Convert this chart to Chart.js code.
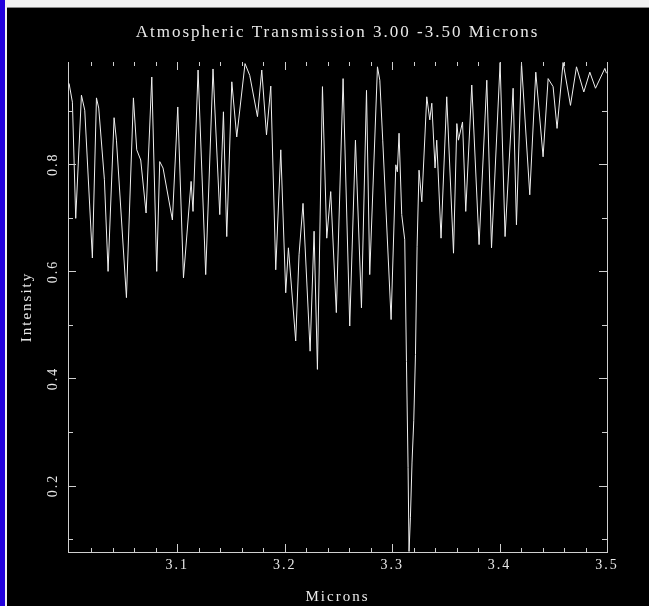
<!DOCTYPE html>
<html>
<head>
<meta charset="utf-8">
<script src="https://cdn.jsdelivr.net/npm/chart.js@4.4.1/dist/chart.umd.min.js"></script>
<style>
  html, body { margin: 0; padding: 0; background: #000; }
  #wrap { position: relative; width: 649px; height: 606px; overflow: hidden; }
  #chart { position: absolute; left: 0; top: 0; }
  .edge { position: absolute; }
</style>
</head>
<body>
<div id="wrap">
  <canvas id="chart" width="649" height="606"></canvas>
  <div class="edge" style="left:5px;top:0;width:644px;height:7px;background:#f2f2f2"></div>
  <div class="edge" style="left:7px;top:7px;width:642px;height:1px;background:#8a8a8a"></div>
  <div class="edge" style="left:5px;top:0;width:2px;height:606px;background:#f2f2f2"></div>
  <div class="edge" style="left:0;top:0;width:5px;height:606px;background:#2200dd"></div>
</div>
<script>
// wavelength (microns) and transmitted intensity
var wavelength = [2.9992, 3.0023, 3.0054, 3.0107, 3.0138, 3.0209, 3.0247, 3.0268, 3.0321, 3.0355,
  3.0411, 3.0433, 3.0526, 3.0591, 3.0622, 3.0659, 3.0709, 3.0762, 3.0808, 3.0836,
  3.0867, 3.0954, 3.1004, 3.1057, 3.1128, 3.1146, 3.1193, 3.1264, 3.1332, 3.1395,
  3.1429, 3.1460, 3.1507, 3.1553, 3.1630, 3.1674, 3.1746, 3.1786, 3.1830, 3.1870,
  3.1916, 3.1963, 3.2009, 3.2034, 3.2102, 3.2133, 3.2170, 3.2236, 3.2273, 3.2304,
  3.2351, 3.2391, 3.2428, 3.2480, 3.2543, 3.2605, 3.2658, 3.2714, 3.2761, 3.2791,
  3.2863, 3.2885, 3.2912, 3.2990, 3.3034, 3.3048, 3.3064, 3.3089, 3.3117, 3.3133,
  3.3148, 3.3157, 3.3170, 3.3185, 3.3201, 3.3217, 3.3232, 3.3250, 3.3276, 3.3322,
  3.3350, 3.3369, 3.3399, 3.3415, 3.3455, 3.3508, 3.3571, 3.3602, 3.3617, 3.3655,
  3.3685, 3.3741, 3.3809, 3.3881, 3.3925, 3.4005, 3.4051, 3.4126, 3.4157, 3.4204,
  3.4281, 3.4337, 3.4405, 3.4452, 3.4498, 3.4535, 3.4591, 3.4660, 3.4716, 3.4784,
  3.4840, 3.4893, 3.4980, 3.4995];

var intensity = [0.951, 0.916, 0.699, 0.929, 0.901, 0.625, 0.924, 0.905, 0.771, 0.600,
  0.887, 0.845, 0.551, 0.924, 0.827, 0.808, 0.709, 0.963, 0.600, 0.805,
  0.793, 0.696, 0.907, 0.588, 0.768, 0.712, 0.976, 0.594, 0.978, 0.706,
  0.898, 0.665, 0.954, 0.851, 0.988, 0.966, 0.889, 0.976, 0.855, 0.946,
  0.603, 0.827, 0.560, 0.644, 0.470, 0.631, 0.727, 0.451, 0.675, 0.417,
  0.945, 0.662, 0.749, 0.523, 0.960, 0.498, 0.845, 0.532, 0.938, 0.594,
  0.982, 0.957, 0.845, 0.510, 0.799, 0.786, 0.858, 0.706, 0.659, 0.432,
  0.234, 0.077, 0.141, 0.244, 0.321, 0.445, 0.646, 0.789, 0.730, 0.926,
  0.883, 0.914, 0.793, 0.845, 0.662, 0.926, 0.634, 0.876, 0.845, 0.879,
  0.712, 0.948, 0.650, 0.957, 0.644, 0.990, 0.665, 0.942, 0.687, 0.989,
  0.743, 0.972, 0.814, 0.960, 0.945, 0.867, 0.990, 0.910, 0.982, 0.935,
  0.972, 0.942, 0.979, 0.970];

// tick positions and their labels (minor ticks have no label)
var xTickValues = [3.02, 3.04, 3.06, 3.08, 3.10, 3.12, 3.14, 3.16, 3.18, 3.20, 3.22, 3.24, 3.26,
  3.28, 3.30, 3.32, 3.34, 3.36, 3.38, 3.40, 3.42, 3.44, 3.46, 3.48, 3.50];
var xTickLabels = ['', '', '', '', '3.1', '', '', '', '', '3.2', '', '', '', '', '3.3', '', '',
  '', '', '3.4', '', '', '', '', '3.5'];
var yTickValues = [0.1, 0.2, 0.3, 0.4, 0.5, 0.6, 0.7, 0.8, 0.9];
var yTickLabels = ['', '0.2', '', '0.4', '', '0.6', '', '0.8', ''];

var fontFamily = "'Liberation Serif', 'DejaVu Serif', serif";
var textColor = '#e8e8e8';
var axisColor = '#cfcfcf';

var points = wavelength.map(function (w, i) { return { x: w, y: intensity[i] }; });

// wide letter spacing like the old plotter font
var spacing = {
    id: 'spacing',
    beforeDraw(chart) {
        chart.ctx.letterSpacing = '2px';
    }
};

// inward ticks on all four sides + right frame line
var frameTicks = {
    id: 'frameTicks',
    afterDraw(chart) {
        const { ctx, chartArea: { left, right, top, bottom }, scales: { x, y } } = chart;
        ctx.save();
        ctx.strokeStyle = axisColor;
        ctx.lineWidth = 1;
        ctx.beginPath();
        ctx.moveTo(right + 0.5, top);
        ctx.lineTo(right + 0.5, bottom + 1);
        x.ticks.forEach(function (t) {
            const px = Math.round(x.getPixelForValue(t.value)) + 0.5;
            const len = t.label ? 8 : 4;
            ctx.moveTo(px, bottom);
            ctx.lineTo(px, bottom - len);
            ctx.moveTo(px, top);
            ctx.lineTo(px, top + len);
        });
        y.ticks.forEach(function (t) {
            const py = Math.round(y.getPixelForValue(t.value)) + 0.5;
            const len = t.label ? 8 : 5;
            ctx.moveTo(left, py);
            ctx.lineTo(left + len, py);
            ctx.moveTo(right, py);
            ctx.lineTo(right - len, py);
        });
        ctx.stroke();
        ctx.restore();
    }
};

var config = {
    type: 'line',
    data: {
        datasets: [{
            label: 'Intensity',
            data: points,
            borderColor: '#f0f0f0',
            borderWidth: 1,
            pointRadius: 0,
            tension: 0,
            fill: false
        }]
    },
    options: {
        responsive: false,
        animation: false,
        devicePixelRatio: 1,
        layout: { padding: { left: 0, right: 42, top: 0, bottom: 0 } },
        plugins: {
            legend: { display: false },
            tooltip: { enabled: false },
            title: {
                display: true,
                fullSize: false,
                text: 'Atmospheric Transmission 3.00 -3.50 Microns',
                color: textColor,
                font: { family: fontFamily, size: 17, weight: 'normal' },
                padding: { top: 22, bottom: 19.6 }
            }
        },
        scales: {
            x: {
                type: 'linear',
                min: 2.9982,
                max: 3.5,
                afterBuildTicks(scale) {
                    scale.ticks = xTickValues.map(function (v) { return { value: v }; });
                },
                afterFit(scale) { scale.height = 54; },
                grid: { display: true, drawOnChartArea: false, drawTicks: false },
                border: { display: true, color: axisColor, width: 1 },
                ticks: {
                    autoSkip: false,
                    maxRotation: 0,
                    padding: 5,
                    color: textColor,
                    font: { family: fontFamily, size: 14 },
                    callback: function (v, i) { return xTickLabels[i]; }
                },
                title: {
                    display: true,
                    text: 'Microns',
                    color: textColor,
                    font: { family: fontFamily, size: 15 },
                    padding: { top: 0, bottom: 0 }
                }
            },
            y: {
                type: 'linear',
                min: 0.076,
                max: 0.991,
                afterBuildTicks(scale) {
                    scale.ticks = yTickValues.map(function (v) { return { value: v }; });
                },
                afterFit(scale) { scale.width = 68; },
                grid: { display: true, drawOnChartArea: false, drawTicks: false },
                border: { display: true, color: axisColor, width: 1 },
                ticks: {
                    autoSkip: false,
                    minRotation: 90,
                    maxRotation: 90,
                    crossAlign: 'center',
                    padding: 6,
                    color: textColor,
                    font: { family: fontFamily, size: 14 },
                    callback: function (v, i) { return yTickLabels[i]; }
                },
                title: {
                    display: true,
                    text: 'Intensity',
                    color: textColor,
                    font: { family: fontFamily, size: 15 },
                    padding: { top: 18, bottom: 0 }
                }
            }
        }
    },
    plugins: [spacing, frameTicks]
};

var atmChart = new Chart(document.getElementById('chart'), config);
</script>
</body>
</html>
